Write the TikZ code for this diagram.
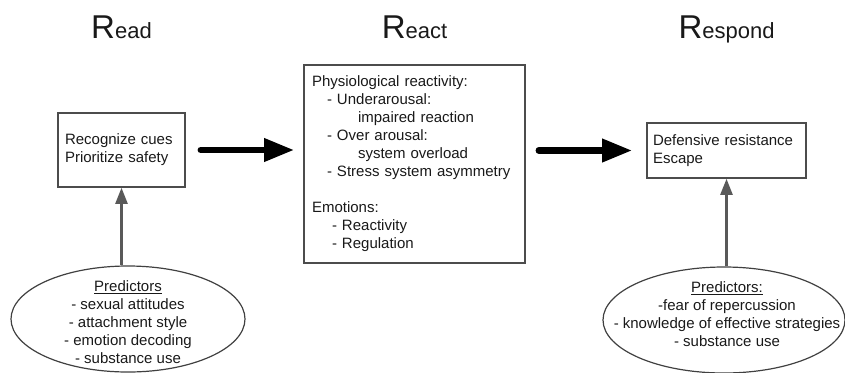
\documentclass[tikz,border=0pt]{standalone}
\usepackage{fontspec}
\setmainfont{Liberation Sans}
\usetikzlibrary{arrows.meta,positioning,shapes,calc}

\newcommand{\bodyfont}{\fontsize{15}{18}\selectfont}
\newcommand{\rtitle}[1]{{\fontsize{33}{36}\selectfont R}{\fontsize{22}{24}\selectfont #1}}

\tikzset{
  stagebox/.style={draw=black!70, line width=1.6pt, rectangle, align=left,
    font=\bodyfont, text=black!90, inner ysep=0pt},
  predictor/.style={draw=black!75, line width=1.2pt, ellipse, inner sep=0pt},
  predtext/.style={align=center, font=\bodyfont, text=black!90},
  bigarrow/.style={line width=6.5pt, line cap=round, -{Triangle[length=30pt,width=22pt]}},
  linkarrow/.style={draw=black!65, line width=2.4pt, -{Triangle[length=16pt,width=12pt]}},
  stagetitle/.style={anchor=base, text=black!90}
}

\begin{document}
\begin{tikzpicture}[x=1pt,y=-1pt]
\useasboundingbox (0,0) rectangle (845,372);

% Titles
\node[stagetitle] (readtitle) at (121.5,38.5) {\rtitle{ead}};
\node[stagetitle] (reacttitle) at (414.5,38.5) {\rtitle{eact}};
\node[stagetitle] (respondtitle) at (726.5,38.5) {\rtitle{espond}};

% Stage boxes
\node[stagebox, text width=113pt, inner xsep=7pt, minimum height=74pt] (read) at (121.5,150)
  {Recognize cues\\Prioritize safety};
\node[stagebox, text width=205pt, inner xsep=8pt, minimum height=198pt] (react) at (414.5,164)
  {Physiological reactivity:\\
   \hspace*{15pt}- Underarousal:\\
   \hspace*{46pt}impaired reaction\\
   \hspace*{15pt}- Over arousal:\\
   \hspace*{46pt}system overload\\
   \hspace*{15pt}- Stress system asymmetry\\[18pt]
   Emotions:\\
   \hspace*{20pt}- Reactivity\\
   \hspace*{20pt}- Regulation};
\node[stagebox, text width=147pt, inner xsep=6pt, minimum height=55pt] (respond) at (726.5,150.5)
  {Defensive resistance\\Escape};

% Predictors
\node[predictor, minimum width=234pt, minimum height=106pt] (predl) at (128,319) {};
\node[predtext] (predltext) at (128,322.5)
  {\underline{Predictors}\\- sexual attitudes\\- attachment style\\- emotion decoding\\- substance use};
\node[predictor, minimum width=242pt, minimum height=106pt] (predr) at (724,320) {};
\node[predtext] (predrtext) at (727,314)
  {\underline{Predictors:}\\-fear of repercussion\\- knowledge of effective strategies\\- substance use};

% Arrows
\draw[bigarrow, shorten <=15pt, shorten >=9pt] (read.east) -- (read.east -| react.west);
\draw[bigarrow, shorten <=13pt, shorten >=14pt] (react.east |- respond.west) -- (respond.west);
\draw[linkarrow] (read.south |- predl.north) -- (read.south);
\draw[linkarrow] (respond.south |- predr.north) -- (respond.south);

\end{tikzpicture}
\end{document}
